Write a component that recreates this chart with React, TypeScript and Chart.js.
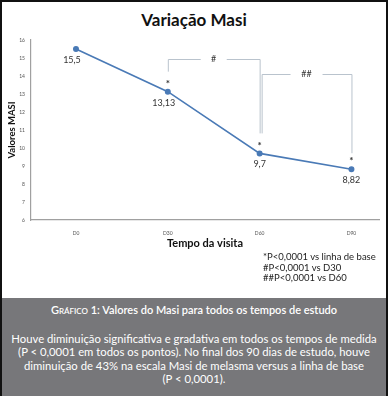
import React, { useEffect, useRef } from "react";
import { Chart, registerables } from "chart.js";

Chart.register(...registerables);

const chartTitle = "Variação Masi";
const categories = ["D0", "D30", "D60", "D90"];
const masiValues = [15.5, 13.13, 9.7, 8.82];
const valueLabels = ["15,5", "13,13", "9,7", "8,82"];
const significance = ["", "*", "*", "*"];
const yTickValues = [6, 7, 8, 9, 10, 11, 12, 13, 14, 15, 16];
const bracketFrom = [1, 2];
const bracketTo = [2, 3];
const bracketLabels = ["#", "##"];
const bracketLevels = [14.95, 14.1];
const notes = ["*P<0,0001 vs linha de base", "#P<0,0001 vs D30", "##P<0,0001 vs D60"];
const captionLead = "Gráfico";
const captionTitle = " 1: Valores do Masi para todos os tempos de estudo";
const captionLines = [
  "Houve diminuição significativa e gradativa em todos os tempos de medida",
  "(P < 0,0001 em todos os pontos). No final dos 90 dias de estudo, houve",
  "diminuição de 43% na escala Masi de melasma versus a linha de base",
  "(P < 0,0001).",
];

const FONT = "Lato, 'Open Sans', sans-serif";
const LINE_COLOR = "#4a7ab6";

const annotationPlugin = {
  id: "annotations",
  afterDatasetsDraw(chart: any) {
    const { ctx, scales } = chart;
    const xs = scales.x;
    const ys = scales.y;
    ctx.save();
    masiValues.forEach((v, i) => {
      const px = xs.getPixelForValue(i);
      const py = ys.getPixelForValue(v);
      ctx.fillStyle = "#333";
      ctx.font = `9px ${FONT}`;
      ctx.textAlign = "center";
      ctx.textBaseline = "middle";
      const dx = i < 2 ? -4 : 0;
      ctx.fillText(valueLabels[i], px + dx, py + 11);
      if (significance[i]) {
        ctx.font = `bold 10px ${FONT}`;
        ctx.fillText(significance[i], px, py - 8);
      }
    });
    ctx.strokeStyle = "#b9c3cd";
    ctx.lineWidth = 1;
    bracketFrom.forEach((from, k) => {
      const to = bracketTo[k];
      const x1 = xs.getPixelForValue(from) + (k === 1 ? 2 : 0);
      const x2 = xs.getPixelForValue(to);
      const top = ys.getPixelForValue(bracketLevels[k]);
      const y1 = ys.getPixelForValue(masiValues[from]) - 20;
      const y2 = ys.getPixelForValue(masiValues[to]) - (k === 0 ? 20 : 16);
      const mid = (x1 + x2) / 2;
      const gap = k === 0 ? 13 : 16;
      ctx.beginPath();
      ctx.moveTo(x1 + 0.5, y1);
      ctx.lineTo(x1 + 0.5, Math.round(top) + 0.5);
      ctx.lineTo(mid - gap, Math.round(top) + 0.5);
      ctx.moveTo(mid + gap, Math.round(top) + 0.5);
      ctx.lineTo(x2 + 0.5, Math.round(top) + 0.5);
      ctx.lineTo(x2 + 0.5, y2);
      ctx.stroke();
      ctx.fillStyle = "#333";
      ctx.font = `9px ${FONT}`;
      ctx.textAlign = "center";
      ctx.textBaseline = "middle";
      ctx.fillText(bracketLabels[k], mid, top);
    });
    ctx.restore();
  },
};

export default function App() {
  const canvasRef = useRef<HTMLCanvasElement | null>(null);

  useEffect(() => {
    if (!canvasRef.current) return;
    const chart = new Chart(canvasRef.current, {
      type: "line",
      data: {
        datasets: [
          {
            data: masiValues.map((v, i) => ({ x: i, y: v })),
            borderColor: LINE_COLOR,
            backgroundColor: LINE_COLOR,
            borderWidth: 1.6,
            pointRadius: 2.2,
            pointStyle: "circle",
            tension: 0,
          },
        ],
      },
      options: {
        responsive: false,
        animation: false,
        layout: { padding: { top: 40, right: 9, left: 0, bottom: 0 } },
        plugins: { legend: { display: false }, tooltip: { enabled: false } },
        scales: {
          x: {
            type: "linear",
            min: -0.49,
            max: 3.3,
            afterBuildTicks: (scale: any) => {
              scale.ticks = categories.map((_, i) => ({ value: i }));
            },
            afterFit: (scale: any) => {
              scale.height = 40;
            },
            grid: { display: false, drawTicks: false },
            border: { display: true, color: "#a0a0a0", width: 1.2 },
            ticks: {
              padding: 10,
              font: { size: 5, family: FONT },
              color: "#555",
              callback: (v: any) => categories[v] ?? "",
            },
            title: {
              display: true,
              text: "Tempo da visita",
              font: { size: 11, weight: "bold", family: FONT },
              color: "#111",
              padding: { top: 0, bottom: 10 },
            },
          },
          y: {
            min: 6,
            max: 16,
            afterBuildTicks: (scale: any) => {
              scale.ticks = yTickValues.map((v) => ({ value: v }));
            },
            afterFit: (scale: any) => {
              scale.width = 31;
            },
            grid: { display: false, drawTicks: false },
            border: { display: true, color: "#a0a0a0", width: 1.2 },
            ticks: {
              padding: 6,
              font: { size: 5, family: FONT },
              color: "#555",
            },
            title: {
              display: true,
              text: "Valores MASI",
              font: { size: 9.5, weight: "bold", family: FONT },
              color: "#111",
              padding: { top: 6, bottom: 0 },
            },
          },
        },
      },
      plugins: [annotationPlugin],
    } as any);
    return () => chart.destroy();
  }, []);

  return (
    <div
      style={{
        position: "absolute",
        left: 0,
        top: 0,
        width: 388,
        height: 396,
        background: "#fff",
        fontFamily: FONT,
        overflow: "hidden",
      }}
    >
      <div
        style={{
          position: "absolute",
          left: 0,
          top: 8,
          width: 388,
          textAlign: "center",
          fontSize: 17,
          fontWeight: "bold",
          color: "#111",
          lineHeight: "24px",
        }}
      >
        {chartTitle}
      </div>
      <canvas
        ref={canvasRef}
        width={388}
        height={260}
        style={{ position: "absolute", left: 0, top: 0, width: 388, height: 260 }}
      />
      <div
        style={{
          position: "absolute",
          left: 263,
          top: 252,
          fontSize: 9.5,
          lineHeight: "10.5px",
          color: "#222",
          whiteSpace: "nowrap",
        }}
      >
        {notes.map((n, i) => (
          <div key={i}>{n}</div>
        ))}
      </div>
      <div
        style={{
          position: "absolute",
          left: 2,
          top: 298,
          width: 384,
          height: 98,
          background: "#77777a",
          color: "#fff",
          textAlign: "center",
        }}
      >
        <div
          style={{
            marginTop: 5,
            fontSize: 11,
            lineHeight: "14px",
            fontWeight: 600,
            whiteSpace: "nowrap",
          }}
        >
          <span style={{ fontVariant: "small-caps" }}>{captionLead}</span>
          {captionTitle}
        </div>
        <div style={{ marginTop: 15, fontSize: 11.3, lineHeight: "13.3px" }}>
          {captionLines.map((l, i) => (
            <div key={i} style={{ whiteSpace: "nowrap" }}>
              {l}
            </div>
          ))}
        </div>
      </div>
      <div
        style={{
          position: "absolute",
          left: 0,
          top: 0,
          width: 388,
          height: 396,
          boxSizing: "border-box",
          border: "2px solid #111",
          borderBottom: "none",
          pointerEvents: "none",
        }}
      />
    </div>
  );
}
